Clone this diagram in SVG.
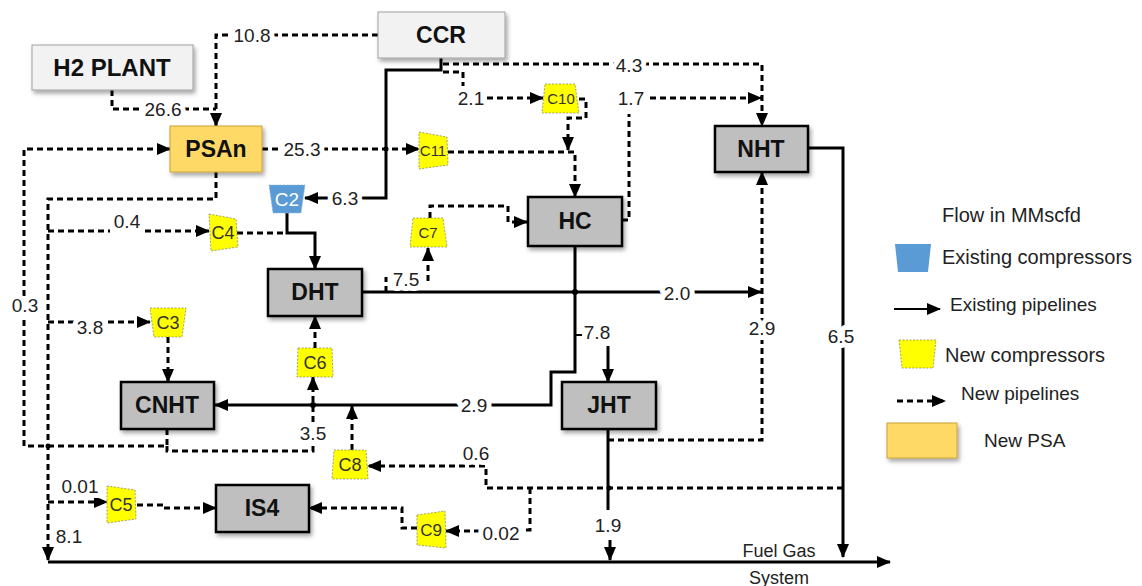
<svg xmlns="http://www.w3.org/2000/svg" width="1142" height="586" viewBox="0 0 1142 586">
<defs>
<marker id="ah" viewBox="0 0 14 12" refX="13" refY="6" markerWidth="14" markerHeight="12" markerUnits="userSpaceOnUse" orient="auto"><path d="M0,0 L14,6 L0,12 z" fill="#000"/></marker>
<filter id="sh" x="-10%" y="-10%" width="130%" height="140%"><feDropShadow dx="2" dy="3" stdDeviation="2" flood-color="#000" flood-opacity="0.35"/></filter>
<style>
.sol{fill:none;stroke:#000;stroke-width:3}
.dsh{fill:none;stroke:#000;stroke-width:3;stroke-dasharray:6 4}
.arr{marker-end:url(#ah)}
.lbl{font-family:"Liberation Sans",Arial,sans-serif;font-size:19px;fill:#222;text-anchor:middle;stroke:#fff;stroke-width:10;paint-order:stroke;stroke-linejoin:round}
.proc{fill:#bfbfbf;stroke:#000;stroke-width:2.5;filter:url(#sh)}
.src{fill:#f2f2f2;stroke:#a0a0a0;stroke-width:1;filter:url(#sh)}
.psa{fill:#ffd966;stroke:#c9a13a;stroke-width:1;filter:url(#sh)}
.nt{font-family:"Liberation Sans",Arial,sans-serif;font-weight:bold;font-size:23px;fill:#111;text-anchor:middle}
.comp{fill:#ffff00;stroke:#8a8a6a;stroke-width:0.8;stroke-dasharray:2 1.5}
.compb{fill:#5b9bd5;stroke:#8fb8e0;stroke-width:0.8;stroke-dasharray:2 1.5}
.ct{font-family:"Liberation Sans",Arial,sans-serif;font-size:17px;fill:#333;text-anchor:middle}
.lg{font-family:"Liberation Sans",Arial,sans-serif;font-size:19px;fill:#222}
</style>
</defs>
<rect width="1142" height="586" fill="#fff"/>

<g id="connectors">
<path class="dsh arr" d="M378,35 H216 V126"/>
<path class="dsh" d="M112,90 V109 H216"/>
<path class="dsh arr" d="M262,149 H419"/>
<path class="dsh arr" d="M448,152 H575 V197"/>
<path class="sol arr" d="M441,58 V70 H386 V198 H305"/>
<path class="dsh arr" d="M443,64 H762 V126"/>
<path class="dsh" d="M443,72 H463 V86"/>
<path class="dsh arr" d="M487,98 H543"/>
<path class="dsh arr" d="M579,99 H586 V118 H568 V150"/>
<path class="dsh" d="M622,220 H629 V114"/>
<path class="dsh arr" d="M650,98 H761"/>
<path class="sol arr" d="M808,148 H843 V557"/>
<path class="sol arr" d="M362,292 H761"/>
<path class="sol arr" d="M575,246 V372 H551 V405 H215"/>
<path class="sol" d="M575,335 H582" style="stroke-width:2"/>
<path class="sol arr" d="M608,346 V382"/>
<path class="dsh" d="M386,292 V277"/>
<path class="dsh arr" d="M428,281 V248"/>
<path class="dsh arr" d="M430,218 V206 H508 V222 H527"/>
<path class="dsh arr" d="M216,172 V199 H48 V560"/>
<path class="dsh" d="M48,231 H110"/>
<path class="dsh arr" d="M145,231 H209"/>
<path class="dsh" d="M237,233 H287"/>
<path class="sol arr" d="M287,213 V233 H315 V269"/>
<path class="dsh arr" d="M48,322 H150"/>
<path class="dsh arr" d="M168,337 V382"/>
<path class="dsh arr" d="M167,429 V446 H24 V149 H170"/>
<path class="dsh arr" d="M167,446 V451 H313 V377"/>
<path class="dsh arr" d="M315,348 V316"/>
<path class="dsh arr" d="M352,450 V406"/>
<path class="dsh arr" d="M843,488 H486 V466 H368"/>
<path class="dsh" d="M530,488 V530 H520"/>
<path class="dsh arr" d="M480,531 H446"/>
<path class="dsh arr" d="M417,528 H402 V508 H309"/>
<path class="dsh arr" d="M137,505 H163 V508 H216"/>
<path class="dsh arr" d="M48,502 H107"/>
<path class="dsh arr" d="M608,440 H762 V172"/>
<path class="sol" d="M608,429 V510"/>
<path class="sol arr" d="M610,540 V560"/>
<path class="sol arr" d="M48,562 H890"/>
<g fill="#000">
<circle cx="575" cy="292" r="3"/>
<circle cx="313" cy="405" r="3"/>
<circle cx="48" cy="446" r="2.5"/>
<circle cx="609" cy="488" r="2.5"/>
<circle cx="386" cy="149" r="2.5"/>
</g>
<text class="lbl" x="252" y="42">10.8</text>
<text class="lbl" x="163" y="116">26.6</text>
<text class="lbl" x="302" y="156">25.3</text>
<text class="lbl" x="629" y="72">4.3</text>
<text class="lbl" x="471" y="105">2.1</text>
<text class="lbl" x="631" y="105">1.7</text>
<text class="lbl" x="345" y="205">6.3</text>
<text class="lbl" x="127" y="228" style="stroke-width:0">0.4</text>
<text class="lbl" x="406" y="286">7.5</text>
<text class="lbl" x="677" y="300">2.0</text>
<text class="lbl" x="25" y="312">0.3</text>
<text class="lbl" x="90" y="334">3.8</text>
<text class="lbl" x="597" y="339">7.8</text>
<text class="lbl" x="762" y="335">2.9</text>
<text class="lbl" x="841" y="343">6.5</text>
<text class="lbl" x="474" y="412">2.9</text>
<text class="lbl" x="313" y="440">3.5</text>
<text class="lbl" x="476" y="460">0.6</text>
<text class="lbl" x="80" y="493">0.01</text>
<text class="lbl" x="501" y="540">0.02</text>
<text class="lbl" x="69" y="543">8.1</text>
<text class="lbl" x="608" y="532">1.9</text>
<text class="lbl" x="779" y="557" style="font-size:18px;stroke-width:5">Fuel Gas</text>
<text class="lbl" x="779" y="584" style="font-size:18px;stroke-width:5">System</text>
</g>

<g id="h2plant"><rect class="src" x="32" y="45" width="161" height="45"/><text class="nt" x="112" y="76" style="font-size:24px">H2 PLANT</text></g>
<g id="ccr"><rect class="src" x="378" y="12" width="127" height="46"/><text class="nt" x="441" y="43">CCR</text></g>
<g id="psan"><rect class="psa" x="170" y="126" width="92" height="46"/><text class="nt" x="216" y="157">PSAn</text></g>
<g id="nht"><rect class="proc" x="715" y="126" width="93" height="46"/><text class="nt" x="761" y="157">NHT</text></g>
<g id="hc"><rect class="proc" x="528" y="197" width="94" height="49"/><text class="nt" x="575" y="229">HC</text></g>
<g id="dht"><rect class="proc" x="268" y="269" width="94" height="47"/><text class="nt" x="315" y="300">DHT</text></g>
<g id="cnht"><rect class="proc" x="121" y="382" width="93" height="47"/><text class="nt" x="167" y="413">CNHT</text></g>
<g id="jht"><rect class="proc" x="562" y="382" width="94" height="47"/><text class="nt" x="609" y="413">JHT</text></g>
<g id="is4"><rect class="proc" x="216" y="485" width="93" height="47"/><text class="nt" x="262" y="516">IS4</text></g>

<g id="c2"><polygon class="compb" points="269,185 305,185 301,213 273,213"/><text class="ct" x="287" y="206" style="fill:#fff;font-size:19px">C2</text></g>
<g id="c10"><polygon class="comp" points="545,84 575,84 579,113 542,113"/><text class="ct" x="561" y="104" style="font-size:15px">C10</text></g>
<g id="c11"><polygon class="comp" points="419,132 447,137 448,165 419,169"/><text class="ct" x="433" y="156" style="font-size:15px">C11</text></g>
<g id="c4"><polygon class="comp" points="209,214 236,219 238,247 211,251"/><text class="ct" x="223" y="239" style="font-size:18px">C4</text></g>
<g id="c7"><polygon class="comp" points="413,218 443,218 447,247 410,247"/><text class="ct" x="428" y="238" style="font-size:15px">C7</text></g>
<g id="c3"><polygon class="comp" points="150,308 186,308 182,337 154,337"/><text class="ct" x="168" y="329" style="font-size:18px">C3</text></g>
<g id="c6"><polygon class="comp" points="298,348 332,348 333,377 297,377"/><text class="ct" x="315" y="369" style="font-size:18px">C6</text></g>
<g id="c8"><polygon class="comp" points="334,450 366,450 368,479 332,479"/><text class="ct" x="350" y="471" style="font-size:18px">C8</text></g>
<g id="c5"><polygon class="comp" points="107,486 135,490 136,519 107,523"/><text class="ct" x="121" y="511" style="font-size:18px">C5</text></g>
<g id="c9"><polygon class="comp" points="417,515 445,511 446,548 417,545"/><text class="ct" x="431" y="536" style="font-size:17px">C9</text></g>

<g id="legend">
<text class="lg" x="942" y="222" style="font-size:20px">Flow in MMscfd</text>
<polygon fill="#5b9bd5" points="895,244 931,244 928,272 898,272"/>
<text class="lg" x="942" y="264" style="font-size:20px">Existing compressors</text>
<path d="M894,309 H940" stroke="#000" stroke-width="2" fill="none" marker-end="url(#ah)"/>
<text class="lg" x="950" y="311" style="font-size:19px">Existing pipelines</text>
<polygon class="comp" points="899,340 936,340 933,368 902,368"/>
<text class="lg" x="945" y="362" style="font-size:20px">New  compressors</text>
<path d="M897,401 H945" class="dsh" marker-end="url(#ah)"/>
<text class="lg" x="961" y="400" style="font-size:19px">New pipelines</text>
<rect x="887" y="423" width="70" height="35" class="psa"/>
<text class="lg" x="984" y="447" style="font-size:19px">New PSA</text>
</g>
</svg>
